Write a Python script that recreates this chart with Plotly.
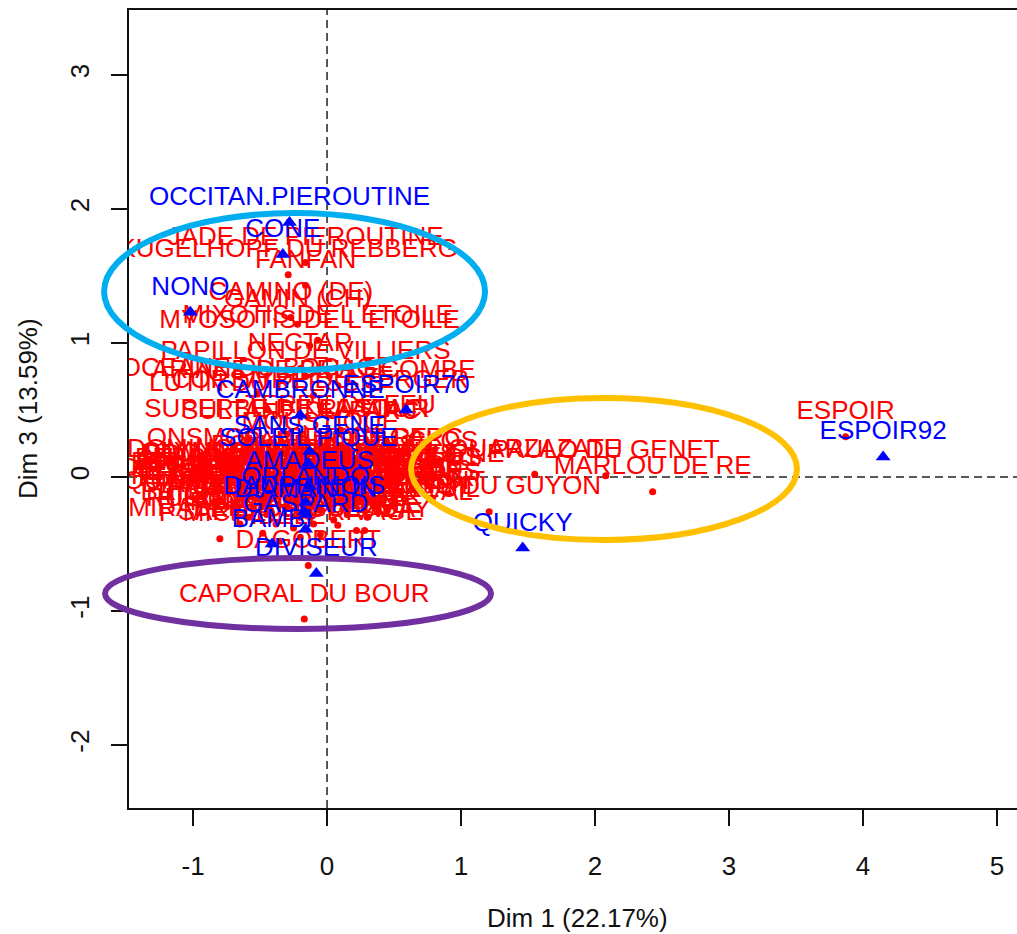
import plotly.graph_objects as go

# ---- Correspondence analysis: row profiles (red) and column profiles (blue) ----
row_names = [
    "ESPOIR", "MARLOU DE RE", "PAULO DU GENET", "OUARZAZATE", "BIJOU DU GUYON",
    "CAPORAL DU BOUR", "DAGOBERT",
    "JADE DE PIEROUTINE", "KUGELHOPF DU REBBERG", "FANFAN", "CAMINO (DE)", "GAMIN (CH)",
    "MYOSOTIS DE L ETOILE", "MIXOTIS DE L ETOILE", "NECTAR", "PAPILLON DE VILLIERS",
    "OCEANE DU BOCAGE", "ARIANE DE BELLECOMBE", "LUTIN DU PLESSIS", "CORSAIRE DU VERGER",
    "SUPERBE DE LA TOUR", "SULTANE DU PARC", "TERRE DE FEU", "RASTACI", "MOUSTIQUE",
    "ONSMOR DU BOCAGE", "PARADIS DU CLOS", "JOUR DE PARC",
    "BELLE DE MAI", "DELICE DU MOULIN", "REGAL DES PRES", "BEAU GESTE", "DIAMANT NOIR",
    "ROMARIN DU BOIS", "PRINCE DU LAC", "ETOILE DU BERGER", "LILAS DE LA VALLEE",
    "MAJOR DU CLOS", "ORPHEE DE PIERRE", "TITAN DU VERGER", "HERMES DU PARC",
    "VAILLANT DU BOSC", "GENTIANE DU PUY", "FLOCON DE NEIGE", "MARQUIS DE LA TOUR",
    "BARON DU TERTRE", "HORIZON DU BREUIL", "ELIXIR DES LANDES", "NAPOLEON DU CHENE",
    "TOURBILLON", "ECLAIR DU MONT", "MISTRAL DU VAL", "ATOUT DU CLOS", "GALOPIN",
    "BRIGAND DU VAL", "FLAMBEAU DU MAS", "RUBIS DE LA FORGE", "PERLE DU PARC",
    "P MICHEL", "ROI DE GUENZAY", "NOISETTE", "SAPHIR DU RIVAGE", "FIDELE", "ROSSIGNOL",
    "DEESSE DU LOIR", "DOMINO DU PRE", "ECHO DES BOIS", "SOLEIL LEVANT", "VERVEINE",
    "ALIZE DU PORT", "BRUME D AUTOMNE", "CYGNE BLANC", "DUCHESSE", "EMERAUDE DU LAC",
    "FAUVETTE DES CHAMPS", "GRENADIER", "HIRONDELLE", "IRIS DU JARDIN", "JASMIN DES PRES",
    "LAVANDE", "MIRABELLE DU CLOS", "NOUGAT", "OLYMPE DU RUISSEAU", "PIVOINE",
    "QUARTZ DU VAL",
]
row_x = [
    3.87, 2.43, 2.08, 1.55, 1.21,
    -0.17, -0.14,
    -0.16, -0.29, -0.16, -0.27, -0.22,
    -0.13, -0.07, -0.20, -0.16,
    -0.52, -0.10, -0.45, -0.05,
    -0.30, -0.20, 0.10, 0.35, -0.05,
    -0.30, 0.25, 0.30,
    -0.80, -0.62, -0.62, -0.80, -0.68,
    -0.50, -0.45, -0.40, -0.35,
    -0.30, -0.25, -0.20, -0.15,
    -0.10, -0.05, 0.00, 0.05,
    0.10, 0.15, 0.20, 0.25,
    0.40, 0.35, 0.30, 0.38, 0.50,
    -0.58, -0.48, -0.38, -0.25,
    -0.80, -0.05, 0.22, -0.20, -0.35, -0.10,
    -0.62, -0.70, -0.10, 0.10, 0.45,
    -0.55, -0.42, -0.28, 0.05, 0.18,
    -0.20, 0.32, -0.65, -0.12, 0.12,
    0.42, -0.48, 0.08, -0.30, 0.28,
    -0.75,
]
row_y = [
    0.30, -0.11, 0.01, 0.02, -0.26,
    -1.06, -0.66,
    1.60, 1.51, 1.43, 1.19, 1.14,
    0.98, 1.02, 0.81, 0.75,
    0.62, 0.61, 0.51, 0.53,
    0.32, 0.30, 0.35, 0.32, 0.22,
    0.10, 0.08, 0.10,
    -0.08, -0.12, -0.18, -0.10, -0.24,
    -0.02, -0.28, -0.15, -0.05,
    -0.22, -0.10, -0.30, -0.18,
    -0.05, -0.25, -0.12, -0.20,
    -0.08, -0.28, -0.15, -0.02,
    -0.10, -0.22, -0.30, -0.05, -0.16,
    -0.30, -0.20, -0.35, -0.38,
    -0.46, -0.43, -0.40, -0.45, -0.48, -0.35,
    -0.05, 0.02, 0.05, 0.02, -0.25,
    -0.22, -0.08, -0.16, -0.32, -0.05,
    -0.02, -0.18, -0.35, -0.14, -0.22,
    -0.02, -0.42, -0.36, 0.00, -0.40,
    -0.22,
]

col_names = [
    "OCCITAN.PIEROUTINE", "CONE", "NONO", "CAMBRONNE", "ESPOIR70", "SANS GENE",
    "SOLEIL PIQUE", "AMADEUS", "ORLANDO", "DIAMANTIN", "DAUPHINOIS", "GASPARD",
    "BAMBI", "DIVISEUR", "QUICKY", "ESPOIR92",
]
col_x = [-0.28, -0.33, -1.02, -0.20, 0.59, -0.13,
         -0.14, -0.13, -0.16, -0.16, -0.17, -0.16,
         -0.41, -0.08, 1.46, 4.15]
col_y = [1.90, 1.66, 1.23, 0.46, 0.50, 0.19,
         0.10, -0.07, -0.19, -0.28, -0.26, -0.39,
         -0.50, -0.72, -0.53, 0.15]

x_ticks = [-1, 0, 1, 2, 3, 4, 5]
y_ticks = [-2, -1, 0, 1, 2, 3]
x_title = "Dim 1 (22.17%)"
y_title = "Dim 3 (13.59%)"

# Highlight ellipses in data units: (x0, x1, y0, y1, colour)
highlights = [
    (-1.664, 1.179, 0.799, 1.970, "#00AEEF"),
    (0.627, 3.507, -0.470, 0.590, "#FFC000"),
    (-1.657, 1.224, -1.134, -0.604, "#7030A0"),
]

# ---- layout geometry ----
W, H = 1017, 934
M_L, M_R, M_T, M_B = 129, 0, 10, 126
X_RANGE = [-1.478, 5.149]
Y_RANGE = [-2.47, 3.485]
plot_w = W - M_L - M_R
plot_h = H - M_T - M_B
px_per_y = plot_h / (Y_RANGE[1] - Y_RANGE[0])
label_shift = 24 / px_per_y  # labels sit above their points

FONT = "Liberation Sans, Arial, sans-serif"
FS = 26


def to_paper_x(v):
    return (v - X_RANGE[0]) / (X_RANGE[1] - X_RANGE[0])


def to_paper_y(v):
    return (v - Y_RANGE[0]) / (Y_RANGE[1] - Y_RANGE[0])


fig = go.Figure()

fig.add_trace(go.Scatter(
    x=row_x, y=row_y, mode="markers",
    marker=dict(symbol="circle", size=7, color="#FF0000"),
    hoverinfo="skip", showlegend=False,
))
fig.add_trace(go.Scatter(
    x=row_x, y=[v + label_shift for v in row_y], mode="text", text=row_names,
    textposition="middle center",
    textfont=dict(family=FONT, size=FS, color="#FF0000"),
    hoverinfo="skip", showlegend=False,
))
fig.add_trace(go.Scatter(
    x=col_x, y=col_y, mode="markers",
    marker=dict(symbol="triangle-up", size=13, color="#0000FF"),
    hoverinfo="skip", showlegend=False,
))
fig.add_trace(go.Scatter(
    x=col_x, y=[v + label_shift for v in col_y], mode="text", text=col_names,
    textposition="middle center",
    textfont=dict(family=FONT, size=FS, color="#0000FF"),
    hoverinfo="skip", showlegend=False,
))

shapes = [
    dict(type="line", xref="x", yref="paper", x0=0, x1=0, y0=0, y1=1, layer="below",
         line=dict(color="#222222", width=1.5, dash="8px,5px")),
    dict(type="line", xref="paper", yref="y", x0=0, x1=1, y0=0, y1=0, layer="below",
         line=dict(color="#222222", width=1.5, dash="8px,5px")),
]
for x0, x1, y0, y1, col in highlights:
    shapes.append(dict(
        type="circle", xref="paper", yref="paper",
        x0=to_paper_x(x0), x1=to_paper_x(x1), y0=to_paper_y(y0), y1=to_paper_y(y1),
        line=dict(color=col, width=6), fillcolor="rgba(0,0,0,0)", layer="above",
    ))

annotations = [
    dict(text=x_title, xref="paper", yref="paper",
         x=(577 - M_L) / plot_w, y=-(918 - (M_T + plot_h)) / plot_h,
         showarrow=False, xanchor="center", yanchor="middle",
         font=dict(family=FONT, size=FS, color="#111111")),
    dict(text=y_title, xref="paper", yref="paper",
         x=(28 - M_L) / plot_w, y=0.5, textangle=-90,
         showarrow=False, xanchor="center", yanchor="middle",
         font=dict(family=FONT, size=FS, color="#111111")),
]

fig.update_layout(
    width=W, height=H,
    margin=dict(l=M_L, r=M_R, t=M_T, b=M_B, pad=0),
    paper_bgcolor="white", plot_bgcolor="white",
    showlegend=False,
    shapes=shapes, annotations=annotations,
    font=dict(family=FONT, size=FS, color="#111111"),
)
fig.update_xaxes(
    range=X_RANGE, tickvals=x_ticks, ticktext=[str(v) for v in x_ticks],
    showgrid=False, zeroline=False, showline=True, mirror=True,
    linecolor="#111111", linewidth=1.5,
    ticks="outside", ticklen=16, tickwidth=1.5, tickcolor="#111111",
    ticklabelstandoff=18, tickfont=dict(family=FONT, size=FS, color="#111111"),
)
fig.update_yaxes(
    range=Y_RANGE, tickvals=y_ticks, ticktext=[str(v) for v in y_ticks],
    showgrid=False, zeroline=False, showline=True,
    linecolor="#111111", linewidth=1.5,
    ticks="outside", ticklen=16, tickwidth=1.5, tickcolor="#111111",
    tickangle=-90, ticklabelstandoff=12,
    tickfont=dict(family=FONT, size=FS, color="#111111"),
)

fig.write_html("out.html")
